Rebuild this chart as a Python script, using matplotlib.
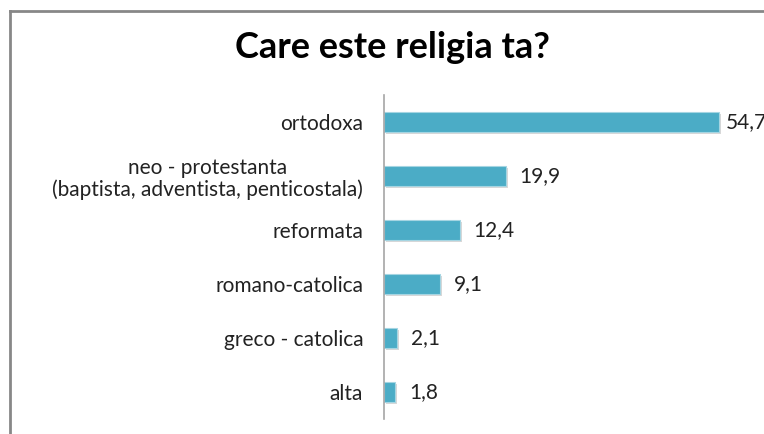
import matplotlib.pyplot as plt
import matplotlib.patheffects as pe

# Data
categories = ['ortodoxa', 'neo - protestanta\n(baptista, adventista, penticostala)',
              'reformata', 'romano-catolica', 'greco - catolica', 'alta']
values = [54.7, 19.9, 12.4, 9.1, 2.1, 1.8]
value_labels = ['54,7', '19,9', '12,4', '9,1', '2,1', '1,8']

plt.rcParams['font.family'] = ['Lato', 'DejaVu Sans']

W, H = 764, 434
fig = plt.figure(figsize=(W / 100, H / 100), dpi=100)

# outer chart frame (cropped on right and bottom)
fig.add_artist(plt.Line2D([9.5 / W, 9.5 / W], [0, 1 - 10.5 / H], color='#878787', lw=2))
fig.add_artist(plt.Line2D([9.5 / W, 1], [1 - 10.5 / H, 1 - 10.5 / H], color='#878787', lw=2))

ax = fig.add_axes([384 / W, 15 / H, 367 / W, 324 / H])
ypos = list(range(len(categories)))
bars = ax.barh(ypos, values, height=0.37, color='#4BACC6', edgecolor='#A5D5E2', lw=0.8)
for b in bars:
    b.set_path_effects([pe.SimplePatchShadow(offset=(1.5, -1.5), shadow_rgbFace='#AAAAAA', alpha=0.45),
                        pe.Normal()])

xmax = 60
ax.set_xlim(0, xmax)
ax.set_ylim(len(categories) - 0.5, -0.5)
ax.set_yticks(ypos)
ax.set_yticklabels(categories, fontsize=15, color='#222222', ha='right', multialignment='center',
                   linespacing=1.1)
ax.tick_params(axis='y', length=0, pad=15)
ax.set_xticks([])
for s in ['top', 'right', 'bottom']:
    ax.spines[s].set_visible(False)
ax.spines['left'].set_color('#A6A6A6')
ax.spines['left'].set_linewidth(1.2)

for y, v, lab in zip(ypos, values, value_labels):
    off = 5 if v > 0.85 * xmax else 10  # label squeezed near the edge
    ax.annotate(lab, (v, y), xytext=(off, 0), textcoords='offset points', va='center', ha='left',
                fontsize=15, color='#222222', annotation_clip=False)

fig.text(392 / W, 1 - 48 / H, 'Care este religia ta?', ha='center', va='center',
         fontsize=26, fontweight='bold', color='black')

fig.savefig('out.png', dpi=100)
